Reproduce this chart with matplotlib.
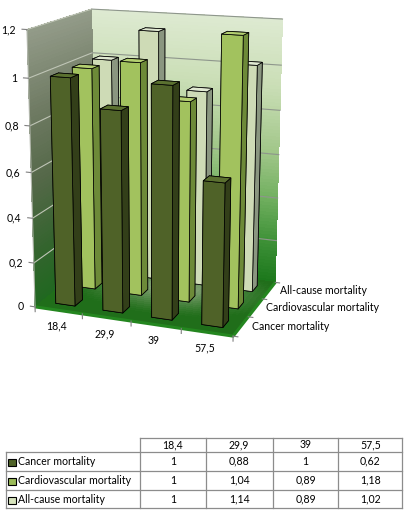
import numpy as np
import matplotlib
matplotlib.use("Agg")
import matplotlib.pyplot as plt
from matplotlib.patches import Rectangle

plt.rcParams['font.family'] = ['Lato', 'DejaVu Sans']

# ---------------- data ----------------
categories = ['18,4', '29,9', '39', '57,5']
series_names = ['Cancer mortality', 'Cardiovascular mortality', 'All-cause mortality']
cancer = [1.00, 0.88, 1.00, 0.62]
cardio = [1.00, 1.04, 0.89, 1.18]
allcause = [1.00, 1.14, 0.89, 1.02]
z_ticks = [0, 0.2, 0.4, 0.6, 0.8, 1.0, 1.2]
z_tick_labels = ['0', '0,2', '0,4', '0,6', '0,8', '1', '1,2']

series_values = [cancer, cardio, allcause]

# ---------------- styles ----------------
legend_colors = ['#4f6228', '#9bbb59', '#d7e4bd']
face_styles = [  # top, front, side
    ('#5b7130', '#4f6228', '#333f19'),
    ('#b3cf70', '#a2c25e', '#6d8a38'),
    ('#e0e9d2', '#cedbb6', '#8a9680'),
]
FS = 7.6
W, H = 408, 515

fig = plt.figure(figsize=(W / 100, H / 100), dpi=100)
ax = fig.add_axes([-0.07559, 0.31530, 0.90331, 0.71563], projection='3d',
                  computed_zorder=False)
ax.view_init(elev=15.1491, azim=-69.3981)
ax.set_proj_type('persp', focal_length=0.59576)
ax.set_box_aspect((0.7420, 0.5412, 1))
ax.set_axis_off()

ncat = len(categories)
nser = len(series_names)
zmax = z_ticks[-1]
bw, bd = 0.41, 0.36


def grad(stops, t):
    t = np.asarray(t, float)
    ts = [s[0] for s in stops]
    out = np.zeros(t.shape + (4,))
    for c in range(3):
        out[..., c] = np.interp(t, ts, [s[1][c] / 255 for s in stops])
    out[..., 3] = 1
    return out


back_stops = [(0, (28, 120, 28)), (0.15, (60, 144, 54)), (0.33, (114, 176, 96)),
              (0.5, (160, 198, 136)), (0.75, (202, 222, 182)), (1.0, (222, 234, 210))]
left_stops = [(0, (32, 104, 32)), (0.2, (52, 100, 46)), (0.45, (84, 104, 72)),
              (0.7, (110, 122, 98)), (1.0, (148, 156, 138))]

# back wall
xs = np.linspace(0, ncat, 2)
zs = np.linspace(0, zmax, 80)
X, Z = np.meshgrid(xs, zs)
Y = np.full_like(X, nser)
ax.plot_surface(X, Y, Z, facecolors=grad(back_stops, Z / zmax), shade=False,
                rstride=1, cstride=1, linewidth=0, antialiased=False, zorder=1)
# left wall
ys = np.linspace(0, nser, 2)
Yl, Zl = np.meshgrid(ys, zs)
Xl = np.zeros_like(Yl)
ax.plot_surface(Xl, Yl, Zl, facecolors=grad(left_stops, Zl / zmax), shade=False,
                rstride=1, cstride=1, linewidth=0, antialiased=False, zorder=1)
# floor
fx = np.linspace(0, ncat, 41)
fy = np.linspace(0, nser, 31)
FX, FY = np.meshgrid(fx, fy)
d = np.sqrt(((FX - 2.1) / 2.2) ** 2 + ((FY - 1.9) / 1.5) ** 2)
tt = np.clip(1 - d, 0, 1) ** 1.3
dark = np.array([32, 110, 26]) / 255
light = np.array([160, 176, 142]) / 255
fcol = np.zeros(FX.shape + (4,))
for c in range(3):
    fcol[..., c] = dark[c] + (light[c] - dark[c]) * tt
fcol[..., 3] = 1
ax.plot_surface(FX, FY, np.zeros_like(FX), facecolors=fcol, shade=False,
                rstride=1, cstride=1, linewidth=0, antialiased=False, zorder=2)

# floor slab edge
ax.plot([0, ncat, ncat], [0, 0, nser], [0, 0, 0], color='#24861f', lw=2.2,
        zorder=2.5, solid_capstyle='butt')

# gridlines
for z in z_ticks[1:]:
    ax.plot([0, 0], [0, nser], [z, z], color='#bfc5b6', lw=0.8, zorder=3)
    ax.plot([0, ncat], [nser, nser], [z, z], color='#8e968c', lw=0.8, zorder=3)
ax.plot([0, 0], [0, 0], [0, zmax], color='#b4b9ae', lw=0.8, zorder=3)

# tick marks
for z in z_ticks:
    ax.plot([-0.1, 0], [0, 0], [z, z], color='#808080', lw=0.8, zorder=4)
for i in range(ncat + 1):
    ax.plot([i, i], [0, 0], [0, -0.022], color='#808080', lw=0.8, zorder=4)
for j in range(nser + 1):
    ax.plot([ncat, ncat + 0.09], [j, j], [0, 0], color='#808080', lw=0.8, zorder=4)

# bars: back row first, left to right
order = 10
for j in reversed(range(nser)):
    top, front, side = face_styles[j]
    for i in range(ncat):
        cols = [side, top, front, front, side, side]
        ax.bar3d(i + 0.5 - bw / 2, j + 0.5 - bd / 2, 0, bw, bd, series_values[j][i],
                 color=cols, shade=False, edgecolor='black', linewidth=0.55,
                 zorder=order)
        order += 1

ax.set_xlim(0, ncat)
ax.set_ylim(0, nser)
ax.set_zlim(0, zmax)

# axis labels placed in 2D at the projected 3D anchor points
ax.apply_aspect()
M = ax.get_proj()


def to_px(x, y, z):
    v = M @ np.array([x, y, z, 1.0])
    return ax.transData.transform((v[0] / v[3], v[1] / v[3]))


def label(x, y, z, s, dx, dy, ha):
    px, py = to_px(x, y, z)
    fig.text((px + dx) / W, (py + dy) / H, s, ha=ha, va='center', fontsize=FS)


for z, lab in zip(z_ticks, z_tick_labels):
    label(0, 0, z, lab, -11, 0, 'right')
for i, lab in enumerate(categories):
    label(i + 0.5, 0, 0, lab, -2, -16, 'center')
for j, lab in enumerate(series_names):
    label(ncat, j + 0.5, 0, lab, 11, 0, 'left')

# ---------------- data table ----------------
tab = fig.add_axes([0, 0, 1, 1])
tab.set_xlim(0, W)
tab.set_ylim(H, 0)
tab.axis('off')
col_edges = [140, 205.7, 272.7, 338.3, 402.3]
row_edges = [438.3, 451.7, 470.7, 490, 508.3]
left_edge = 5.7
lc = '#8c8c8c'


def fmt(v):
    return ('%g' % v).replace('.', ',')


tab.plot([col_edges[0], col_edges[-1]], [row_edges[0]] * 2, color=lc, lw=0.9)
for y in row_edges[1:]:
    tab.plot([left_edge, col_edges[-1]], [y, y], color=lc, lw=0.9)
for x in col_edges:
    tab.plot([x, x], [row_edges[0], row_edges[-1]], color=lc, lw=0.9)
tab.plot([left_edge, left_edge], [row_edges[1], row_edges[-1]], color=lc, lw=0.9)

for k, lab in enumerate(categories):
    cx = (col_edges[k] + col_edges[k + 1]) / 2
    tab.text(cx, (row_edges[0] + row_edges[1]) / 2, lab, ha='center', va='center', fontsize=FS)
for j, name in enumerate(series_names):
    cy = (row_edges[j + 1] + row_edges[j + 2]) / 2
    tab.add_patch(Rectangle((7.5, cy - 2.5), 8, 7, facecolor=legend_colors[j],
                            edgecolor='black', lw=0.8))
    tab.text(17.5, cy, name, ha='left', va='center', fontsize=FS)
    for k in range(ncat):
        cx = (col_edges[k] + col_edges[k + 1]) / 2
        tab.text(cx, cy, fmt(series_values[j][k]), ha='center', va='center', fontsize=FS)

fig.savefig('out.png', dpi=100)
